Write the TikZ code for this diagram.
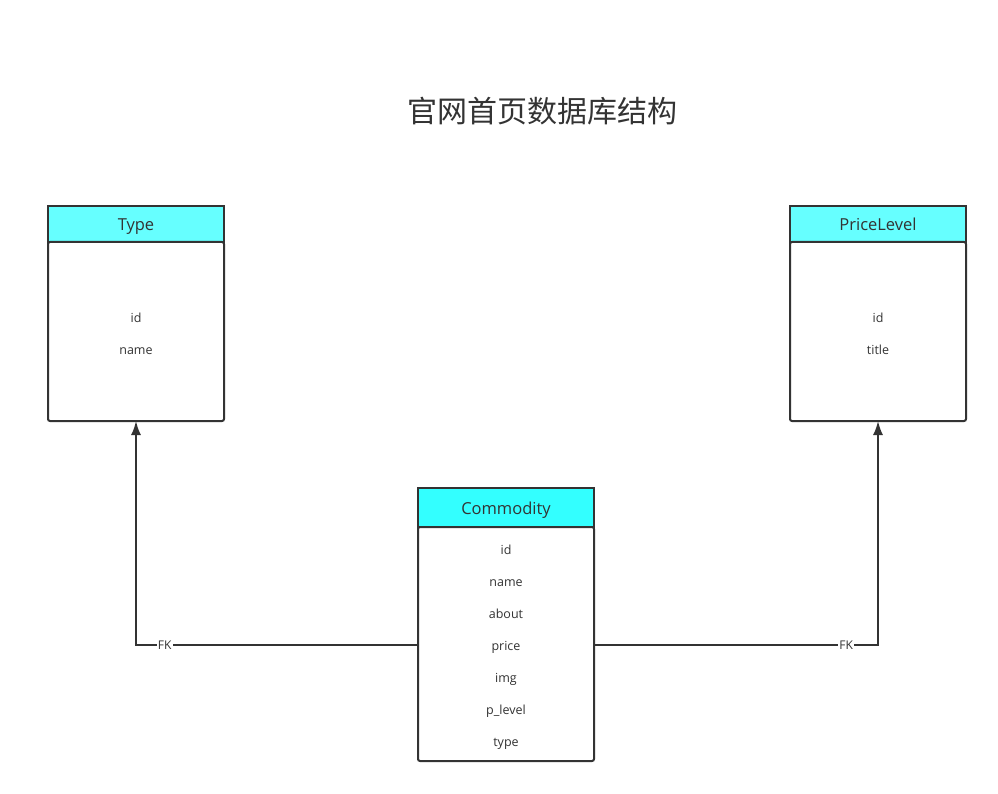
\documentclass[tikz,border=0pt]{standalone}
\usepackage{fontspec}
\setmainfont{Open Sans}
\newfontfamily\cjk{Noto Sans CJK SC}
\usetikzlibrary{arrows.meta,positioning}
\definecolor{ink}{HTML}{333333}
\definecolor{headA}{HTML}{66FFFF}
\definecolor{headB}{HTML}{33FFFF}
\newcommand{\toprow}{\rule{0pt}{15pt}}

\begin{document}
\begin{tikzpicture}[x=1pt,y=-1pt,line width=2pt,draw=ink,text=ink]
  \tikzstyle{head} = [draw=ink, fill=headA, rectangle, minimum width=176pt, minimum height=36pt, inner sep=0pt, outer sep=0pt, text height=14pt, text depth=0pt, font={\fontsize{16.5}{20}\selectfont}]
  \tikzstyle{body} = [draw=ink, fill=white, rectangle, rounded corners=2pt, minimum width=176pt, inner sep=0pt, outer sep=0pt, align=center, font={\fontsize{12.5}{32}\selectfont}]
  \tikzstyle{link} = [ink, line width=1.8pt, -{Latex[length=14pt,width=10pt]}];
  \tikzstyle{fk} = [fill=white, inner sep=1pt, font={\fontsize{12}{14}\selectfont}];

  \useasboundingbox (0,0) rectangle (998,794);

  \node[font={\cjk\fontsize{30}{36}\selectfont}] (title) at (542,111) {官网首页数据库结构};

  \node[head] (th) at (136,224) {Type};
  \node[body, minimum height=179pt, below=0pt of th] (tb) {\toprow id\\name};

  \node[head] (ph) at (878,224) {PriceLevel};
  \node[body, minimum height=179pt, below=0pt of ph] (pb) {\toprow id\\title};

  \node[head, fill=headB, minimum height=39pt] (ch) at (506,507.5) {Commodity};
  \node[body, minimum height=234pt, below=0pt of ch] (cb) {\toprow id\\name\\about\\price\\img\\p\_level\\type};

  \draw[link] ([yshift=-1pt]cb.west) -| node[fk, pos=0.449] {FK} (tb.south);
  \draw[link] ([yshift=-1pt]cb.east) -| node[fk, pos=0.444] {FK} (pb.south);
\end{tikzpicture}
\end{document}
